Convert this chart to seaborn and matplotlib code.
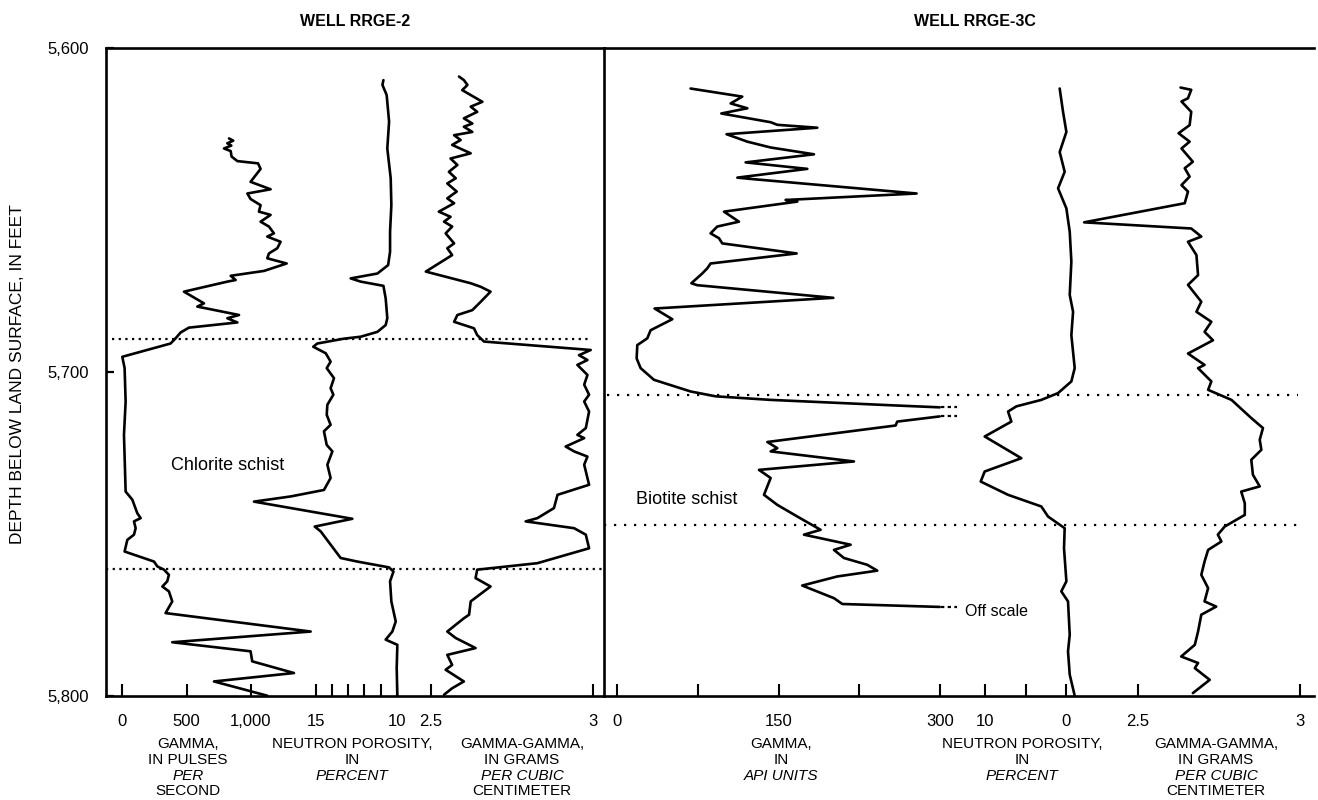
import matplotlib
matplotlib.use("Agg")
import matplotlib.pyplot as plt
import seaborn as sns

# ---------------- DATA ----------------
# Well RRGE-2 : gamma (pulses per second)
rrge2_gamma_depth = [5628.0, 5628.7, 5629.5, 5630.2, 5631.1, 5631.9, 5633.6, 5635.0, 5635.7, 5637.4,
                     5641.4, 5643.7, 5645.0, 5646.7, 5648.6, 5650.6, 5651.6, 5653.7, 5655.2, 5657.3,
                     5658.3, 5659.9, 5661.9, 5663.5, 5665.0, 5666.6, 5668.9, 5670.4, 5671.7, 5672.2,
                     5675.3, 5678.9, 5679.9, 5682.5, 5683.5, 5684.8, 5686.4, 5687.9, 5689.7, 5691.3,
                     5695.4, 5698.9, 5709.2, 5719.5, 5737.0, 5739.5, 5743.7, 5745.2, 5746.2, 5748.3,
                     5750.3, 5751.9, 5755.5, 5758.6, 5760.1, 5761.1, 5762.7, 5764.7, 5766.3, 5767.8,
                     5770.9, 5774.5, 5780.2, 5783.5, 5786.3, 5789.4, 5793.0, 5795.6, 5800.0]
rrge2_gamma = [831, 864, 818, 849, 792, 844, 851, 896, 1057, 1077,
               999, 1155, 974, 999, 1077, 1064, 1155, 1077, 1142, 1181,
               1129, 1233, 1207, 1142, 1129, 1280, 1103, 844, 883, 818,
               480, 636, 584, 909, 818, 896, 519, 454, 415, 376,
               0, 18, 26, 13, 26, 78, 117, 143, 91, 104,
               91, 39, 18, 247, 273, 325, 363, 350, 312, 363,
               389, 337, 1467, 389, 999, 1012, 1337, 714, 1129]

# Well RRGE-2 : neutron porosity (percent)
rrge2_neutron_depth = [5610.0, 5611.5, 5614.6, 5622.8, 5631.1, 5640.3, 5648.6, 5656.8, 5663.0, 5667.1,
                       5669.7, 5671.2, 5672.2, 5673.5, 5677.4, 5683.5, 5685.6, 5687.7, 5689.2, 5689.8,
                       5691.3, 5692.3, 5694.3, 5696.9,
                       5698.9, 5702.0, 5705.1, 5707.1, 5710.2, 5713.3, 5716.4, 5718.4, 5722.6, 5724.6,
                       5728.7, 5732.8, 5736.5, 5738.5, 5740.1, 5745.4, 5747.8, 5749.3, 5757.5, 5758.6,
                       5760.4, 5761.7, 5764.7, 5770.9, 5777.1, 5780.2, 5782.7, 5784.3, 5791.5, 5800.0]
rrge2_neutron = [10.82, 10.88, 10.62, 10.47, 10.58, 10.37, 10.33, 10.41, 10.41, 10.53,
                 11.19, 12.84, 12.22, 10.82, 10.68, 10.58, 10.68, 11.19, 12.22, 13.25,
                 14.90, 15.15, 14.38, 14.08,
                 14.32, 13.87, 14.08, 13.91, 14.28, 14.32, 14.08, 14.49, 14.32, 13.97,
                 14.28, 14.08, 14.49, 16.54, 18.81, 12.74, 15.06, 14.69, 13.46, 12.43,
                 10.47, 10.20, 10.41, 10.33, 10.06, 10.27, 10.68, 9.96, 10.00, 9.96]

# Well RRGE-2 : gamma-gamma (grams per cubic centimeter)
rrge2_density_depth = [5608.9, 5610.0, 5611.5, 5613.1, 5616.7, 5618.2, 5619.8, 5621.8, 5623.4, 5624.4,
                       5626.0, 5627.0, 5628.5, 5630.0, 5632.6, 5634.2, 5636.2, 5638.3, 5640.3, 5641.9,
                       5644.4, 5646.5, 5648.0, 5650.6, 5652.2, 5653.7, 5655.2, 5657.3, 5660.4, 5661.9,
                       5664.0, 5669.1, 5672.7, 5673.8, 5675.3, 5678.4, 5681.0, 5682.5, 5684.6, 5686.6,
                       5688.7, 5690.7, 5693.3, 5694.9, 5696.4, 5697.9,
                       5698.9, 5701.0, 5704.0, 5707.1, 5709.2, 5712.3, 5717.4, 5719.5, 5720.5, 5723.1,
                       5724.6, 5726.2, 5728.7, 5734.9, 5738.0, 5742.1, 5745.2, 5746.2, 5748.3, 5750.3,
                       5754.5, 5759.1, 5761.1, 5763.7, 5766.3, 5767.8, 5770.9, 5775.0, 5776.1, 5780.2,
                       5782.2, 5785.3, 5787.4, 5790.5, 5792.0, 5795.6, 5797.7, 5799.7]
rrge2_density = [2.587, 2.602, 2.613, 2.597, 2.659, 2.623, 2.643, 2.602, 2.628, 2.602,
                 2.628, 2.572, 2.592, 2.566, 2.623, 2.561, 2.582, 2.556, 2.577, 2.551,
                 2.580, 2.551, 2.572, 2.525, 2.561, 2.541, 2.566, 2.546, 2.572, 2.551,
                 2.566, 2.485, 2.623, 2.654, 2.684, 2.654, 2.628, 2.582, 2.572, 2.633,
                 2.643, 2.664, 2.992, 2.956, 2.982, 2.951,
                 2.961, 2.982, 2.972, 2.987, 2.972, 2.987, 2.977, 2.951, 2.972, 2.915,
                 2.941, 2.982, 2.972, 2.987, 2.890, 2.879, 2.828, 2.792, 2.941, 2.977,
                 2.987, 2.828, 2.643, 2.638, 2.684, 2.664, 2.623, 2.618, 2.602, 2.551,
                 2.577, 2.638, 2.551, 2.566, 2.546, 2.602, 2.566, 2.541]

# Well RRGE-3C : gamma (API units), two on-scale runs
rrge3c_gamma_depth_a = [5612.6, 5615.1, 5617.2, 5618.7, 5620.3, 5623.0, 5623.8, 5624.7, 5626.7, 5629.0,
                        5630.8, 5632.9, 5635.4, 5637.4, 5640.1, 5640.5, 5645.0, 5647.0, 5647.5, 5650.6,
                        5653.7, 5655.2, 5657.3, 5658.8, 5660.4, 5663.5, 5666.6, 5668.1, 5669.7, 5672.7,
                        5673.3, 5677.2, 5680.5, 5683.8, 5687.2, 5689.7, 5691.8, 5695.9, 5698.9, 5702.5,
                        5706.1, 5707.6, 5708.7, 5710.4, 5711.0]
rrge3c_gamma_a = [68.2, 116.3, 105.5, 121.0, 96.8, 142.7, 148.9, 186.1, 101.7, 121.0,
                  142.7, 183.0, 119.4, 176.8, 111.7, 124.0, 278.5, 156.6, 167.5, 99.3,
                  113.2, 93.0, 86.8, 94.6, 97.7, 166.9, 86.8, 83.7, 79.0, 68.9,
                  74.4, 201.0, 34.7, 51.2, 31.0, 27.9, 18.6, 18.0, 21.7, 34.1,
                  68.2, 91.5, 142.7, 257.4, 300.0]
rrge3c_gamma_depth_b = [5713.8, 5715.4, 5716.6, 5721.7, 5723.6, 5724.6, 5727.7, 5730.3, 5732.8, 5738.0,
                        5741.1, 5744.7, 5748.8, 5750.3, 5753.4, 5755.0, 5757.5, 5759.6, 5761.4, 5763.2,
                        5766.0, 5769.9, 5771.7, 5772.6]
rrge3c_gamma_b = [300.0, 260.5, 259.0, 139.6, 148.9, 142.7, 220.2, 131.8, 142.7, 136.5,
                  148.9, 167.5, 189.2, 173.7, 217.1, 201.6, 210.9, 232.6, 241.9, 204.7,
                  172.1, 201.6, 209.4, 300.0]
offscale_depths = [5711.0, 5713.8, 5772.6]
offscale_range = [301.0, 316.0]

# Well RRGE-3C : neutron porosity (percent)
rrge3c_neutron_depth = [5612.6, 5619.8, 5626.0, 5632.2, 5638.3, 5643.4, 5649.6, 5656.8, 5666.0, 5676.3,
                        5681.5, 5688.7,
                        5698.9, 5703.0, 5706.6, 5708.7, 5710.7, 5712.3, 5715.4, 5720.0, 5726.7, 5730.8,
                        5733.9, 5738.0, 5741.6, 5744.7, 5748.3, 5754.5, 5764.7, 5767.8, 5770.9, 5781.2,
                        5786.3, 5793.5, 5800.0]
rrge3c_neutron = [0.81, 0.40, -0.01, 0.81, 0.20, 1.01, -0.01, -0.42, -0.62, -0.42,
                  -0.83, -0.62,
                  -1.03, -0.62, 1.01, 3.06, 6.12, 7.14, 6.73, 10.0, 5.51, 10.0,
                  10.49, 7.14, 3.06, 2.24, 0.20, 0.28, -0.01, 0.61, -0.21, -0.42,
                  -0.21, -0.42, -1.03]

# Well RRGE-3C : gamma-gamma (grams per cubic centimeter)
rrge3c_density_depth = [5612.3, 5613.0, 5615.6, 5616.6, 5619.8, 5623.9, 5626.4, 5629.0, 5631.1, 5635.2,
                        5637.2, 5639.8, 5642.4, 5644.4, 5648.0, 5653.9, 5655.8, 5658.3, 5659.9, 5664.0,
                        5670.2, 5673.2, 5678.4, 5681.5, 5684.6, 5687.7, 5690.3, 5694.4, 5697.9,
                        5698.9, 5703.0, 5705.6, 5708.7, 5714.3, 5717.4, 5721.0, 5724.1, 5727.2, 5731.8,
                        5735.4, 5737.0, 5740.6, 5744.2, 5747.8, 5750.3, 5752.4, 5755.0, 5758.6, 5762.7,
                        5766.8, 5770.9, 5772.5, 5775.0, 5780.2, 5784.3, 5787.9, 5789.9, 5791.5, 5795.1,
                        5799.2]
rrge3c_density = [2.631, 2.664, 2.654, 2.634, 2.664, 2.659, 2.625, 2.659, 2.634, 2.669,
                  2.644, 2.659, 2.634, 2.654, 2.644, 2.334, 2.664, 2.695, 2.654, 2.680,
                  2.685, 2.654, 2.695, 2.680, 2.726, 2.705, 2.731, 2.654, 2.705,
                  2.685, 2.726, 2.716, 2.788, 2.849, 2.885, 2.875, 2.880, 2.849, 2.854,
                  2.875, 2.818, 2.829, 2.829, 2.767, 2.746, 2.757, 2.716, 2.705, 2.695,
                  2.716, 2.705, 2.741, 2.695, 2.685, 2.675, 2.633, 2.685, 2.675, 2.721,
                  2.669]

# Lithologic contacts (depth, feet)
rrge2_contacts = [5690.0, 5760.8]
rrge3c_contacts = [5707.3, 5747.2]

depth_ticks = [5600, 5700, 5800]
depth_ticklabels = ["5,600", "5,700", "5,800"]

# ---------------- FIGURE ----------------
sns.set_theme(style="white")
plt.rcParams['font.family'] = ['Liberation Sans', 'DejaVu Sans']
plt.rcParams['text.color'] = 'black'
plt.rcParams['axes.labelcolor'] = 'black'
plt.rcParams['xtick.color'] = 'black'
plt.rcParams['ytick.color'] = 'black'

W, H = 1318, 800
TOP, BOT = 47.7, 695.7
DEPTH_LIM = (5800, 5600)
LW = 1.9
fig = plt.figure(figsize=(W / 100, H / 100), dpi=100)


def rect(x0, x1):
    return [x0 / W, 1 - BOT / H, (x1 - x0) / W, (BOT - TOP) / H]


def ftext(x, y, s, **kw):
    fig.text(x / W, 1 - y / H, s, color="black", **kw)


def frame(x0, x1, left=True):
    ax = fig.add_axes(rect(x0, x1))
    ax.set_xlim(0, 1)
    ax.set_ylim(*DEPTH_LIM)
    ax.set_xticks([])
    for s in ax.spines.values():
        s.set_linewidth(1.9)
        s.set_color("black")
    ax.spines["right"].set_visible(False)
    ax.spines["left"].set_visible(left)
    return ax


def track(x0, x1, anchor, vals, depths, ticks, labels, extra=None):
    (v0, p0), (v1, p1) = anchor
    k = (v1 - v0) / (p1 - p0)
    ax = fig.add_axes(rect(x0, x1))
    ax.patch.set_alpha(0)
    segs = [(vals, depths)] + (extra or [])
    for v, d in segs:
        sns.lineplot(x=v, y=d, ax=ax, sort=False, estimator=None,
                     color="black", linewidth=LW)
    ax.set_xlim(v0 + (x0 - p0) * k, v0 + (x1 - p0) * k)
    ax.set_ylim(*DEPTH_LIM)
    for s in ax.spines.values():
        s.set_visible(False)
    ax.set_yticks([])
    ax.set_xticks(ticks)
    ax.set_xticklabels(labels)
    ax.tick_params(axis="x", direction="in", length=9, width=1.5, pad=13,
                   labelsize=12, bottom=True, colors="black")
    ax.set_xlabel("")
    ax.set_ylabel("")
    return ax


# panel frames
axL = frame(106, 604)
axR = frame(604, 1314)
axL.set_yticks(depth_ticks)
axL.set_yticklabels(depth_ticklabels)
axL.tick_params(axis="y", direction="in", length=6, width=1.6, pad=12,
                labelsize=12, left=True, colors="black")
axR.set_yticks([])

# contacts (dotted)
axL.axhline(rrge2_contacts[0], xmin=0.012, xmax=0.976, color="black", lw=1.6, ls=(0, (1, 2.0)))
axL.axhline(rrge2_contacts[1], xmin=0.0, xmax=1.0, color="black", lw=1.6, ls=(0, (1, 2.0)))
axR.axhline(rrge3c_contacts[0], xmin=0.004, xmax=0.977, color="black", lw=1.6, ls=(0, (1, 3.5)))
axR.axhline(rrge3c_contacts[1], xmin=0.0, xmax=0.977, color="black", lw=1.6, ls=(0, (1, 3.5)))

# RRGE-2 tracks
track(106, 604, ((0, 122.3), (1000, 250.7)), rrge2_gamma, rrge2_gamma_depth,
      [0, 500, 1000], ["0", "500", "1,000"])
track(106, 604, ((15, 315.7), (10, 396.7)), rrge2_neutron, rrge2_neutron_depth,
      [15, 14, 13, 12, 11, 10], ["15", "", "", "", "", "10"])
track(106, 604, ((2.5, 430.7), (3.0, 593.3)), rrge2_density, rrge2_density_depth,
      [2.5, 3.0], ["2.5", "3"])

# RRGE-3C tracks
axG = track(604, 1314, ((0, 617.3), (300, 939.7)), rrge3c_gamma_a, rrge3c_gamma_depth_a,
            [0, 75, 150, 225, 300], ["0", "", "150", "", "300"],
            extra=[(rrge3c_gamma_b, rrge3c_gamma_depth_b)])
for d in offscale_depths:
    axG.plot(offscale_range, [d, d], color="black", lw=1.6, ls=(0, (1.5, 1.5)))
track(604, 1314, ((10, 984.7), (0, 1066.3)), rrge3c_neutron, rrge3c_neutron_depth,
      [10, 5, 0], ["10", "", "0"])
track(604, 1314, ((2.5, 1138.0), (3.0, 1300.3)), rrge3c_density, rrge3c_density_depth,
      [2.5, 3.0], ["2.5", "3"])

# titles and labels
ftext(355, 21, "WELL RRGE-2", ha="center", va="center", fontsize=11.5, fontweight="bold")
ftext(975, 21, "WELL RRGE-3C", ha="center", va="center", fontsize=11.5, fontweight="bold")
ftext(18, 374, "DEPTH BELOW LAND SURFACE, IN FEET", ha="center", va="center",
      rotation=90, fontsize=12.5)
ftext(228, 466, "Chlorite schist", ha="center", va="center", fontsize=13)
ftext(687, 500, "Biotite schist", ha="center", va="center", fontsize=13)
ftext(965, 611, "Off scale", ha="left", va="center", fontsize=11.5)

line_y = [744, 760, 776, 791]
captions = [
    (188, [("GAMMA,", "normal"), ("IN PULSES", "normal"), ("PER", "italic"), ("SECOND", "normal")]),
    (352, [("NEUTRON POROSITY,", "normal"), ("IN", "normal"), ("PERCENT", "italic")]),
    (522, [("GAMMA-GAMMA,", "normal"), ("IN GRAMS", "normal"), ("PER CUBIC", "italic"), ("CENTIMETER", "normal")]),
    (781, [("GAMMA,", "normal"), ("IN", "normal"), ("API UNITS", "italic")]),
    (1022, [("NEUTRON POROSITY,", "normal"), ("IN", "normal"), ("PERCENT", "italic")]),
    (1216, [("GAMMA-GAMMA,", "normal"), ("IN GRAMS", "normal"), ("PER CUBIC", "italic"), ("CENTIMETER", "normal")]),
]
for cx, lines in captions:
    for (txt, style), yy in zip(lines, line_y):
        ftext(cx, yy, txt, ha="center", va="center", fontsize=11, fontstyle=style)

fig.savefig("out.png", dpi=100, facecolor="white")
